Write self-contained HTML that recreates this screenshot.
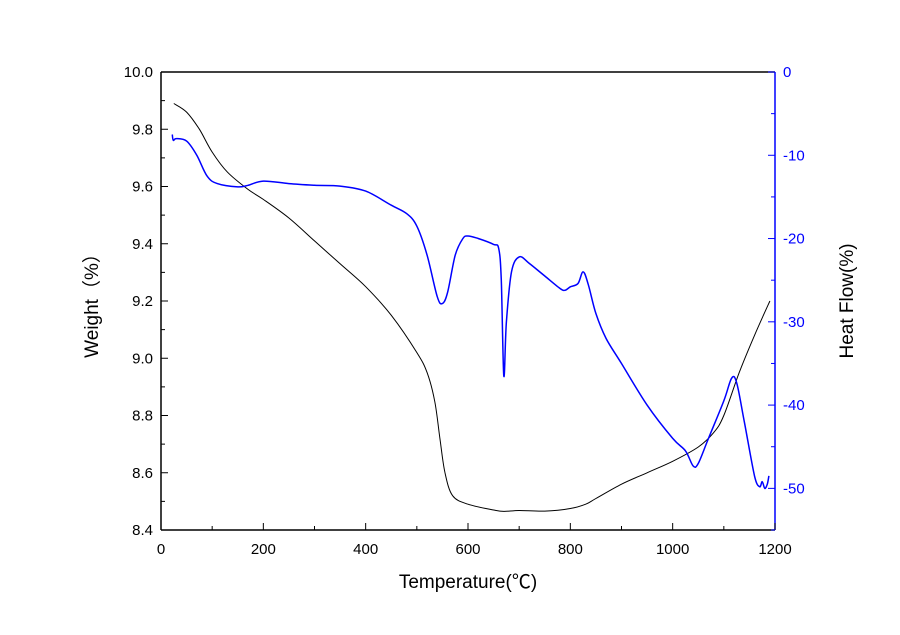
<!DOCTYPE html>
<html><head><meta charset="utf-8"><style>
body{margin:0;background:#fff;}
svg{display:block;font-family:"Liberation Sans","Noto Sans CJK SC",sans-serif;}
</style></head><body>
<svg id="chart" width="900" height="635" viewBox="0 0 900 635"></svg>
<script>
const xTicks=[0,200,400,600,800,1000,1200];
const wTicks=[8.4,8.6,8.8,9.0,9.2,9.4,9.6,9.8,10.0];
const hTicks=[0,-10,-20,-30,-40,-50];
const wTemp=[25,50,75,100,130,170,200,250,300,350,400,450,500,520,535,545,555,570,600,650,670,700,750,800,830,850,900,950,1000,1050,1080,1100,1130,1160,1190];
const wVal=[9.89,9.86,9.80,9.72,9.65,9.59,9.555,9.49,9.41,9.33,9.25,9.15,9.02,8.95,8.85,8.72,8.6,8.52,8.49,8.47,8.465,8.468,8.466,8.475,8.49,8.51,8.56,8.6,8.64,8.69,8.74,8.8,8.95,9.08,9.2];
const hTemp=[22,24,30,50,70,90,110,150,170,200,250,300,350,400,450,480,500,520,540,550,560,575,590,600,620,650,660,665,670,675,685,700,720,750,780,790,800,815,825,835,850,870,900,950,1000,1025,1040,1050,1070,1100,1115,1125,1140,1160,1170,1175,1180,1185,1188];
const hVal=[-7.5,-8.2,-8.0,-8.3,-10,-12.5,-13.4,-13.8,-13.6,-13.1,-13.4,-13.6,-13.7,-14.3,-16,-17,-18.5,-22,-27,-27.8,-26.5,-22,-20,-19.7,-20,-20.7,-21.2,-25,-36.5,-30,-24,-22.2,-23,-24.5,-26,-26.2,-25.8,-25.4,-24,-25.5,-29,-32,-35,-40,-44,-45.5,-47.3,-47,-44,-39.5,-36.8,-37.3,-42,-48.5,-49.8,-49.2,-50,-49.5,-48.5];
const L=161,R=775,T=72,B=530;
const xs=v=>L+(v/1200)*(R-L);
const yw=v=>B-(v-8.4)/1.6*(B-T);
const yh=v=>T+(-v)/55*(B-T);
const svg=document.getElementById('chart');
const NS='http://www.w3.org/2000/svg';
function mk(tag,attrs,parent){const e=document.createElementNS(NS,tag);for(const k in attrs)e.setAttribute(k,attrs[k]);(parent||svg).appendChild(e);return e;}
function ln(x1,y1,x2,y2,c,w){return mk('line',{x1,y1,x2,y2,stroke:c,'stroke-width':w||1});}
function tx(x,y,s,size,c,anchor,extra){const e=mk('text',Object.assign({x,y,'font-size':size,fill:c,'text-anchor':anchor||'middle'},extra||{}));e.textContent=s;return e;}
function smooth(P){let d='M'+P[0][0].toFixed(1)+','+P[0][1].toFixed(1);
 for(let i=0;i<P.length-1;i++){const p0=P[i-1]||P[i],p1=P[i],p2=P[i+1],p3=P[i+2]||p2;
  const c1=[p1[0]+(p2[0]-p0[0])/6,p1[1]+(p2[1]-p0[1])/6],c2=[p2[0]-(p3[0]-p1[0])/6,p2[1]-(p3[1]-p1[1])/6];
  d+='C'+c1[0].toFixed(1)+','+c1[1].toFixed(1)+' '+c2[0].toFixed(1)+','+c2[1].toFixed(1)+' '+p2[0].toFixed(1)+','+p2[1].toFixed(1);}
 return d;}
let e;
e=ln(L,T,R,T,'#000',1.5);
e=ln(L,T,L,B,'#000',1.5);
e=ln(L,B,R,B,'#000',1.5);
e=ln(R,T,R,B,'#0000ff',1.5);
for(let v=0;v<=1200;v+=100){const x=xs(v);ln(x,B,x,B-(v%200===0?7:4),'#000',1);}
xTicks.forEach(v=>{e=tx(xs(v),554,String(v),15,'#000');});
for(let i=0;i<=16;i++){const v=8.4+i*0.1;const y=yw(v);ln(L,y,L+(i%2===0?7:4),y,'#000',1);}
wTicks.forEach(v=>{e=tx(L-8,yw(v)+5,v.toFixed(1),15,'#000','end');});
for(let v=0;v>=-55;v-=5){const y=yh(v);ln(R,y,R-(v%10===0?7:4),y,'#0000ff',1);}
hTicks.forEach(v=>{e=tx(R+8,yh(v)+5,String(v),15,'#0000ff','start');});
e=tx((L+R)/2,588,'Temperature(℃)',19,'#000');
e=tx(0,0,'Weight（%）',19,'#000','middle',{transform:'translate(98,301) rotate(-90)'});
e=tx(0,0,'Heat Flow(%)',19,'#000','middle',{transform:'translate(853,301) rotate(-90)'});
e=mk('path',{d:smooth(wTemp.map((t,i)=>[xs(t),yw(wVal[i])])),fill:'none',stroke:'#000','stroke-width':1});


e=mk('path',{d:smooth(hTemp.map((t,i)=>[xs(t),yh(hVal[i])])),fill:'none',stroke:'#0000ff','stroke-width':1.5,'stroke-linejoin':'round'});


</script>
</body></html>
